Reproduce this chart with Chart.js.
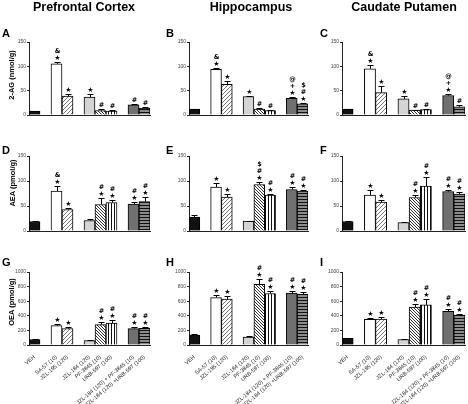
<!DOCTYPE html>
<html>
<head>
<meta charset="utf-8">
<script src="https://cdn.jsdelivr.net/npm/chart.js"></script>
<style>
body { margin:0; width:468px; height:404px; position:relative; overflow:hidden; background:#fff;
       font-family:"Liberation Sans", Arial, sans-serif; }
canvas { position:absolute; }
.lbl { position:absolute; font-weight:bold; color:#000; white-space:nowrap; }
.ttl { font-size:12.5px; transform:translateX(-50%); top:0; }
.let { font-size:11px; }
.yt  { font-size:7.5px; transform:translate(-50%,-50%) rotate(-90deg); }
</style>
</head>
<body>
<script>
// treatment groups (dose mg/kg)
var treatments = ["VEH", "SA-57 (10)", "JZL-195 (120)", "JZL-184 (120)", "PF-3845 (10)",
  "URB-597 (100)", "JZL-184 (120) + PF-3845 (10)", "JZL-184 (120) +URB-597 (100)"];
var regions = ["Prefrontal Cortex", "Hippocampus", "Caudate Putamen"];
var analytes = ["2-AG (nmol/g)", "AEA (pmol/g)", "OEA (pmol/g)"];
var panelLetters = [["A","B","C"], ["D","E","F"], ["G","H","I"]];

// one row per region: PFC, hippocampus, caudate putamen
var ag2Mean = [[8,105,39,37,9,8,21,14], [12,94,63,38,12,9,34,23], [12,95,46,33,10,11,40,17]];
var ag2Sem  = [[1,4,4,6,4,2,2,3], [1,2,6,2,3,1,2,2], [1,8,14,6,1,2,3,4]];
var ag2Sig  = [["","*&","*","*","#","#","#","#"], ["","*&","*","*","#","#","*+@","*#$"],
               ["","*&","*","*","#","#","*+@","#"]];

var aeaMean = [[19,80,43,21,53,57,54,59], [28,88,68,20,93,72,83,80], [19,72,58,17,67,90,79,74]];
var aeaSem  = [[2,11,4,4,13,6,5,9], [4,8,6,1,5,2,5,3], [1,10,4,1,5,19,4,4]];
var aeaSig  = [["","*&","*","","*#","*#","*#","*#"], ["","*","*","","*#$","*#","*#","*#"],
               ["","*","*","","*#","*#","*#","*#"]];

var oeaMean = [[75,265,225,60,280,300,225,230], [135,650,630,110,830,705,710,695], [90,350,355,75,520,550,460,410]];
var oeaSem  = [[8,25,20,5,40,45,15,20], [10,30,40,8,70,30,25,35], [5,15,25,5,40,80,30,20]];
var oeaSig  = [["","*","*","","*#","*#","*#","*#"], ["","*","*","","*#","*#","*#","*#"],
               ["","*","*","","*#","*#","*#","*#"]];

var yMax  = [150, 150, 1000];
var yStep = [50, 50, 200];

// layout: category slot of each treatment (gaps between drug groups)
var slotOf = [0, 2, 3, 5, 6, 7, 9, 10];
var nSlots = 11;
var axisX = [29, 189, 342], plotRight = [150, 308, 465];
var plotTop = [42, 156, 272], plotBottom = [117, 233, 345];

Chart.defaults.font.family = '"Liberation Sans", Arial, sans-serif';

function hatch(bg, fg, kind, s) {
  var c = document.createElement('canvas');
  c.width = s; c.height = s;
  var g = c.getContext('2d');
  g.fillStyle = bg; g.fillRect(0, 0, s, s);
  g.strokeStyle = fg; g.lineWidth = 1;
  g.beginPath();
  if (kind === 'up') {
    g.moveTo(0, s); g.lineTo(s, 0);
    g.moveTo(-1, 1); g.lineTo(1, -1);
    g.moveTo(s - 1, s + 1); g.lineTo(s + 1, s - 1);
  } else if (kind === 'down') {
    g.moveTo(0, 0); g.lineTo(s, s);
    g.moveTo(-1, s - 1); g.lineTo(1, s + 1);
    g.moveTo(s - 1, -1); g.lineTo(s + 1, 1);
  } else if (kind === 'vert') {
    g.moveTo(0.5, 0); g.lineTo(0.5, s);
  } else {
    g.moveTo(0, 0.5); g.lineTo(s, 0.5);
  }
  g.stroke();
  return g.createPattern(c, 'repeat');
}

var fills = ['#111111', '#ffffff', hatch('#ffffff', '#777777', 'up', 4), '#d4d4d4',
  hatch('#ffffff', '#333333', 'down', 3), hatch('#ffffff', '#111111', 'vert', 3),
  '#707070', hatch('#8c8c8c', '#111111', 'horiz', 3)];

function spread(arr, empty) {
  var out = [];
  for (var i = 0; i < nSlots; i++) out.push(empty);
  arr.forEach(function (v, i) { out[slotOf[i]] = v; });
  return out;
}

// draws upward SEM whiskers and the significance symbols above them
var errorBars = {
  id: 'errorBars',
  afterDatasetsDraw: function (chart) {
    var ds = chart.data.datasets[0];
    var meta = chart.getDatasetMeta(0);
    var y = chart.scales.y;
    var ctx = chart.ctx;
    ctx.save();
    ctx.strokeStyle = '#000';
    ctx.fillStyle = '#000';
    ctx.lineWidth = 1;
    ctx.textAlign = 'center';
    ctx.textBaseline = 'bottom';
    meta.data.forEach(function (bar, i) {
      var v = ds.data[i];
      if (v == null) return;
      var top = Math.round(y.getPixelForValue(v + ds.sem[i])) + 0.5;
      var x = Math.round(bar.x) + 0.5;
      ctx.beginPath();
      ctx.moveTo(x, bar.y); ctx.lineTo(x, top);
      ctx.moveTo(x - 3, top); ctx.lineTo(x + 3, top);
      ctx.stroke();
      var s = ds.sig[i] || '';
      for (var k = 0; k < s.length; k++) {
        var ch = s[k] === '*' ? '\u2605' : s[k];
        ctx.font = (s[k] === '*' ? '7px' : 'bold 6.5px') + ' "DejaVu Sans", sans-serif';
        ctx.fillText(ch, x, top - 1 - k * 7);
      }
    });
    ctx.restore();
  }
};

var means = [ag2Mean, aeaMean, oeaMean];
var sems = [ag2Sem, aeaSem, oeaSem];
var sigs = [ag2Sig, aeaSig, oeaSig];

function addText(cls, text, css) {
  var d = document.createElement('div');
  d.className = 'lbl ' + cls;
  d.textContent = text;
  for (var k in css) d.style[k] = css[k];
  document.body.appendChild(d);
}

function makePanel(r, c) {
  var left = axisX[c] - 26;
  var top = plotTop[r] - 8;
  var xH = r === 2 ? 404 - plotBottom[r] : 2;
  var w = plotRight[c] + 2 - left;
  var h = plotBottom[r] + xH - top;
  var cv = document.createElement('canvas');
  cv.setAttribute('width', w);
  cv.setAttribute('height', h);
  cv.style.left = left + 'px';
  cv.style.top = top + 'px';
  cv.style.width = w + 'px';
  cv.style.height = h + 'px';
  document.body.appendChild(cv);

  new Chart(cv.getContext('2d'), {
    type: 'bar',
    data: {
      labels: spread(treatments, ''),
      datasets: [{
        data: spread(means[r][c], null),
        sem: spread(sems[r][c], 0),
        sig: spread(sigs[r][c], ''),
        backgroundColor: spread(fills, '#fff'),
        borderColor: '#000',
        borderWidth: 1,
        barPercentage: 1,
        categoryPercentage: 1
      }]
    },
    options: {
      animation: false,
      responsive: false,
      devicePixelRatio: 1,
      layout: { padding: { top: 8, right: 2, left: 0, bottom: 0 } },
      plugins: { legend: { display: false }, tooltip: { enabled: false } },
      scales: {
        x: {
          grid: { display: false },
          border: { display: true, color: '#222', width: 1 },
          ticks: {
            display: r === 2, autoSkip: false, maxRotation: 40, minRotation: 40,
            padding: 1, color: '#222', font: { size: 5.5 }
          },
          afterFit: function (s) { s.height = xH; }
        },
        y: {
          min: 0, max: yMax[r],
          grid: { drawOnChartArea: false, drawTicks: true, tickLength: 2, color: '#222' },
          border: { display: true, color: '#222', width: 1 },
          ticks: { stepSize: yStep[r], padding: 1, color: '#444', font: { size: 5 },
                   callback: function (v) { return String(v); } },
          afterFit: function (s) { s.width = 26; }
        }
      }
    },
    plugins: [errorBars]
  });
}

for (var r = 0; r < 3; r++) {
  for (var c = 0; c < 3; c++) {
    makePanel(r, c);
    addText('let', panelLetters[r][c], { left: (c === 0 ? 2 : (c === 1 ? 166 : 320)) + 'px',
      top: [27, 144, 256][r] + 'px' });
  }
  addText('yt', analytes[r], { left: [11, 12, 11][r] + 'px', top: [75, 183, 302][r] + 'px' });
}
[84, 251, 404].forEach(function (cx, i) {
  addText('ttl', regions[i], { left: cx + 'px' });
});
</script>
</body>
</html>
